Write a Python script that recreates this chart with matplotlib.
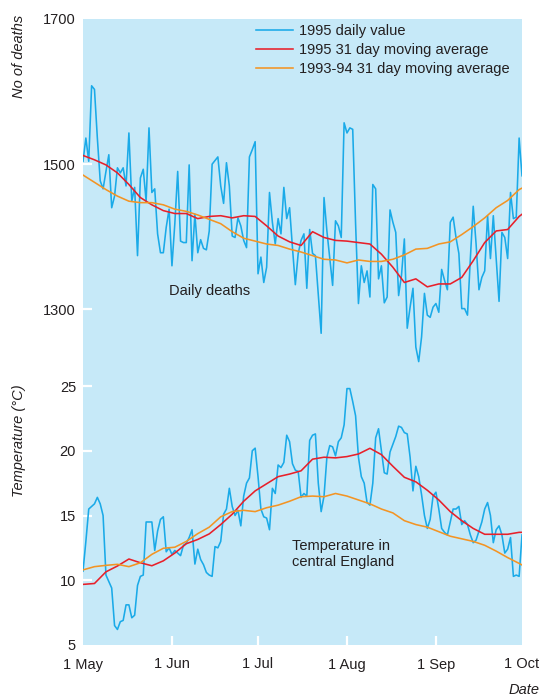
import numpy as np
import matplotlib
matplotlib.use("Agg")
import matplotlib.pyplot as plt
import pandas as pd

plt.rcParams['font.family'] = ['Liberation Sans Narrow', 'Liberation Sans', 'DejaVu Sans']

# ---------------- data ----------------
dates = pd.date_range('1995-05-01', '1995-10-01', freq='D')  # 154 days

deaths_1995 = [
    1504, 1536, 1504, 1608, 1603, 1536, 1477, 1466, 1490, 1513,
    1440, 1456, 1495, 1488, 1495, 1470, 1543, 1449, 1468, 1374,
    1481, 1493, 1449, 1550, 1461, 1466, 1404, 1378, 1378, 1413,
    1438, 1360, 1418, 1490, 1394, 1392, 1392, 1499, 1367, 1431,
    1378, 1396, 1384, 1382, 1408, 1500, 1505, 1510, 1470, 1446,
    1502, 1470, 1401, 1399, 1426, 1415, 1395, 1385, 1510, 1520,
    1531, 1349, 1372, 1337, 1358, 1461, 1420, 1390, 1425, 1404,
    1468, 1425, 1440, 1385, 1334, 1377, 1395, 1404, 1329, 1410,
    1377, 1374, 1320, 1267, 1454, 1408, 1370, 1333, 1422, 1415,
    1399, 1557, 1543, 1550, 1548, 1418, 1308, 1360, 1337, 1353,
    1317, 1472, 1466, 1342, 1360, 1309, 1317, 1437, 1420, 1406,
    1319, 1347, 1397, 1274, 1303, 1329, 1248, 1228, 1262, 1322,
    1292, 1289, 1303, 1308, 1296, 1355, 1340, 1327, 1420, 1427,
    1399, 1377, 1301, 1301, 1292, 1370, 1442, 1390, 1327, 1344,
    1353, 1429, 1370, 1429, 1370, 1311, 1406, 1399, 1370, 1461,
    1425, 1427, 1536, 1484,
]

temp_1995 = [
    10.7, 13.0, 15.5, 15.7, 15.9, 16.4, 15.9, 15.0, 10.4, 9.9,
    9.4, 6.5, 6.2, 6.8, 6.9, 8.1, 8.1, 7.1, 7.3, 9.6,
    10.3, 10.4, 14.5, 14.5, 14.5, 12.3, 13.8, 14.7, 14.9, 12.2,
    12.5, 12.0, 12.3, 12.1, 11.9, 12.7, 12.85, 13.3, 13.9, 11.25,
    12.4, 11.6, 11.2, 10.6, 10.4, 10.3, 12.6, 12.5, 13.0, 15.1,
    15.5, 17.1, 15.7, 15.0, 15.4, 14.2, 16.5, 17.5, 17.9, 20.0,
    20.2, 18.0, 15.5, 14.9, 14.8, 13.9, 17.1, 16.7, 18.9, 18.7,
    19.1, 21.2, 20.7, 19.0, 18.5, 18.4, 16.4, 16.7, 16.5, 20.8,
    21.2, 21.3, 17.5, 15.3, 16.5, 19.5, 20.4, 20.3, 19.6, 20.7,
    21.0, 22.0, 24.8, 24.8, 23.8, 22.7, 19.5, 18.0, 17.5, 16.0,
    15.8, 17.5, 21.0, 21.7, 20.0, 18.3, 18.2, 19.9, 20.5, 21.1,
    21.9, 21.8, 21.4, 21.3, 19.5, 16.9, 18.8, 18.0, 16.6, 15.0,
    14.0, 14.7, 16.5, 16.8, 15.5, 14.0, 13.7, 13.5, 14.5, 15.5,
    15.5, 15.7, 14.3, 14.6, 14.3, 13.5, 12.9, 13.1, 13.8, 14.5,
    15.5, 16.0, 15.0, 12.9, 13.9, 14.2, 13.5, 12.1, 12.4, 13.3,
    10.3, 10.4, 10.3, 13.5,
]

# moving averages, read every 4 days (plus 1 Oct)
ma_days = [0, 4, 8, 12, 16, 20, 24, 28, 32, 36, 40, 44, 48, 52, 56, 60, 64, 68, 72, 76,
           80, 84, 88, 92, 96, 100, 104, 108, 112, 116, 120, 124, 128, 132, 136, 140,
           144, 148, 152, 153]

deaths_ma_1995 = [1512, 1506, 1499, 1488, 1472, 1454, 1444, 1436, 1432, 1432,
                  1425, 1428, 1429, 1426, 1429, 1428, 1415, 1401, 1393, 1388,
                  1407, 1399, 1395, 1394, 1392, 1390, 1376, 1358, 1337, 1342,
                  1331, 1335, 1335, 1344, 1367, 1392, 1408, 1410, 1428, 1431]

deaths_ma_9394 = [1485, 1475, 1465, 1456, 1449, 1447, 1447, 1444, 1438, 1435,
                  1430, 1424, 1418, 1407, 1398, 1394, 1390, 1388, 1383, 1379,
                  1374, 1369, 1368, 1364, 1368, 1366, 1366, 1369, 1375, 1383,
                  1384, 1390, 1393, 1403, 1414, 1426, 1440, 1450, 1465, 1467]

temp_ma_1995 = [9.68, 9.75, 10.65, 11.1, 11.64, 11.35, 11.12, 11.5, 12.1, 12.82,
                13.15, 13.58, 14.3, 15.1, 16.1, 16.9, 17.45, 18.0, 18.2, 18.45,
                19.35, 19.5, 19.45, 19.55, 19.75, 20.19, 19.7, 18.8, 17.95, 17.6,
                16.95, 16.2, 15.3, 14.6, 14.0, 13.55, 13.55, 13.55, 13.7, 13.7]

temp_ma_9394 = [10.8, 11.05, 11.15, 11.23, 11.05, 11.35, 12.0, 12.47, 12.55, 13.0,
                13.6, 14.1, 14.9, 15.3, 15.4, 15.3, 15.6, 15.8, 16.1, 16.45,
                16.5, 16.45, 16.7, 16.5, 16.2, 15.9, 15.5, 15.2, 14.6, 14.3,
                14.1, 13.75, 13.4, 13.2, 13.0, 12.7, 12.25, 11.75, 11.3, 11.18]

xtick_dates = ['1995-05-01', '1995-06-01', '1995-07-01', '1995-08-01', '1995-09-01', '1995-10-01']
xtick_labels = ['1 May', '1 Jun', '1 Jul', '1 Aug', '1 Sep', '1 Oct']
deaths_ticks = [1300, 1500, 1700]
temp_ticks = [5, 10, 15, 20, 25]
legend_labels = ['1995 daily value', '1995 31 day moving average', '1993-94 31 day moving average']

# ---------------- style ----------------
BG = '#c6e9f8'
BLUE = '#1aaae8'
RED = '#e8202a'
ORANGE = '#f39424'
TXT = '#231f20'
FS = 10.5

W, H = 540, 696
fig = plt.figure(figsize=(W / 100, H / 100), dpi=100)

left, right = 83 / W, 522 / W
top_px, split_px, bot_px = 19, 370, 645
ax1 = fig.add_axes([left, 1 - split_px / H, right - left, (split_px - top_px) / H])
ax2 = fig.add_axes([left, 1 - bot_px / H, right - left, (bot_px - split_px) / H])

ma_dates = dates[0] + pd.to_timedelta(ma_days, unit='D')

lw = 1.15
ax1.plot(dates, deaths_1995, color=BLUE, lw=lw, label=legend_labels[0], zorder=3)
ax1.plot(ma_dates, deaths_ma_1995, color=RED, lw=lw, label=legend_labels[1], zorder=4)
ax1.plot(ma_dates, deaths_ma_9394, color=ORANGE, lw=lw, label=legend_labels[2], zorder=4)

ax2.plot(dates, temp_1995, color=BLUE, lw=lw, zorder=3)
ax2.plot(ma_dates, temp_ma_1995, color=RED, lw=lw, zorder=4)
ax2.plot(ma_dates, temp_ma_9394, color=ORANGE, lw=lw, zorder=4)

x0, x1 = pd.Timestamp('1995-05-01'), pd.Timestamp('1995-10-01')
px_per_unit_d = 146 / 200
ax1.set_ylim(1700 - (split_px - 17) / px_per_unit_d, 1700)
ax2.set_ylim(5, 5 + (bot_px - split_px) / 12.95)

for ax in (ax1, ax2):
    ax.set_facecolor(BG)
    ax.set_xlim(x0, x1)
    for s in ax.spines.values():
        s.set_visible(False)
    ax.tick_params(axis='both', direction='in', color='white', length=6.5, width=1.6,
                   labelcolor=TXT, labelsize=FS, pad=5)

ax1.set_yticks(deaths_ticks)
ax1.set_xticks([])
ax2.set_yticks(temp_ticks)
ax2.set_xticks(pd.to_datetime(xtick_dates))
ax2.set_xticklabels(xtick_labels)
ax2.tick_params(axis='x', pad=9)

# tick marks at the very edges of the panel are not visible in the original
ax1.yaxis.get_major_ticks()[-1].tick1line.set_visible(False)
ax2.yaxis.get_major_ticks()[0].tick1line.set_visible(False)
xt = ax2.xaxis.get_major_ticks()
xt[0].tick1line.set_visible(False)
xt[-1].tick1line.set_visible(False)

leg = ax1.legend(loc='upper left', bbox_to_anchor=(256 / W, 1 - 24 / H),
                 bbox_transform=fig.transFigure, frameon=False, fontsize=FS,
                 handlelength=2.55, handletextpad=0.4, labelspacing=0.35, borderpad=0,
                 borderaxespad=0)
for t in leg.get_texts():
    t.set_color(TXT)

fig.text(210 / W, 1 - 291 / H, 'Daily deaths', ha='center', va='center', fontsize=FS, color=TXT)
fig.text(292 / W, 1 - 554 / H, 'Temperature in\ncentral England', ha='left', va='center',
         fontsize=FS, color=TXT, linespacing=1.25)

fig.text(19 / W, 1 - 15 / H, 'No of deaths', rotation=90, ha='center', va='top',
         fontsize=FS, color=TXT, style='italic')
fig.text(19 / W, 1 - 441 / H, 'Temperature (°C)', rotation=90, ha='center', va='center',
         fontsize=FS, color=TXT, style='italic')
fig.text(540 / W, 1 - 690 / H, 'Date', ha='right', va='center', fontsize=FS, color=TXT,
         style='italic')

fig.savefig('out.png', dpi=100)
